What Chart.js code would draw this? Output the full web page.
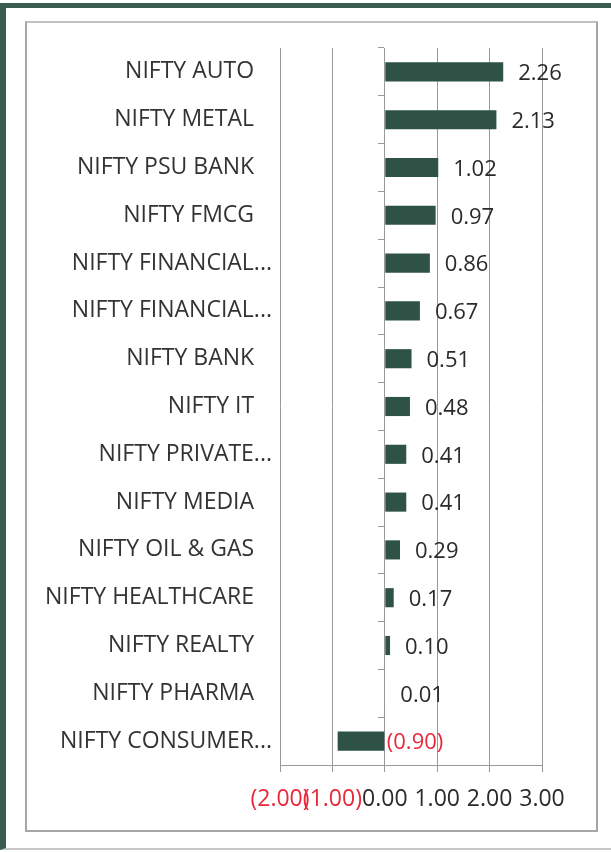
<!DOCTYPE html>
<html>
<head>
<meta charset="utf-8">
<script src="https://cdn.jsdelivr.net/npm/chart.js@4.4.1/dist/chart.umd.min.js"></script>
<style>
  body { margin: 0; background: #fff; }
  #frame {
    position: absolute; left: 0; top: 3px; width: 611px; height: 847px;
    border-left: 6px solid #3b5c50; border-top: 5px solid #3b5c50;
    border-bottom: 2px solid #c8c8c8; box-sizing: border-box;
  }
  #box {
    position: absolute; left: 25px; top: 21px; width: 573px; height: 811px;
    border: 2px solid #a6a6a6; border-top-color: #c0c0c0; box-sizing: border-box;
  }
  #wrap { position: absolute; left: 25px; top: 21px; width: 572px; height: 811px; }
</style>
</head>
<body>
<div id="frame"></div>
<div id="box"></div>
<div id="wrap"><canvas id="chart-sektor"></canvas></div>
<script>
const kategori = [
    "NIFTY AUTO", "NIFTY METAL", "NIFTY PSU BANK", "NIFTY FMCG",
    "NIFTY FINANCIAL...", "NIFTY FINANCIAL...", "NIFTY BANK", "NIFTY IT",
    "NIFTY PRIVATE...", "NIFTY MEDIA", "NIFTY OIL & GAS", "NIFTY HEALTHCARE",
    "NIFTY REALTY", "NIFTY PHARMA", "NIFTY CONSUMER..."
];
const nilai = [2.26, 2.13, 1.02, 0.97, 0.86, 0.67, 0.51, 0.48, 0.41, 0.41, 0.29, 0.17, 0.10, 0.01, -0.90];
const tickSumbuX = [-2, -1, 0, 1, 2, 3];

const fontUtama = "'Open Sans', sans-serif";

function formatAngka(v) {
    const s = Math.abs(v).toFixed(2);
    return v < 0 ? "(" + s + ")" : s;
}

// label nilai di ujung batang (negatif: merah, di sisi kanan garis nol)
const labelNilai = {
    id: "labelNilai",
    afterDatasetsDraw(chart) {
        const ctx = chart.ctx;
        const meta = chart.getDatasetMeta(0);
        const x0 = chart.scales.x.getPixelForValue(0);
        ctx.save();
        ctx.font = "22px " + fontUtama;
        ctx.textBaseline = "middle";
        ctx.textAlign = "left";
        meta.data.forEach(function (bar, i) {
            const v = nilai[i];
            if (v < 0) {
                ctx.fillStyle = "#e8283a";
                ctx.fillText(formatAngka(v), x0 + 2, bar.y + 2);
            } else {
                ctx.fillStyle = "#2a2a2a";
                ctx.fillText(formatAngka(v), bar.x + 15, bar.y + 2);
            }
        });
        ctx.restore();
    }
};

new Chart(document.getElementById("chart-sektor"), {
    type: "bar",
    data: {
        labels: kategori,
        datasets: [{
            data: nilai,
            backgroundColor: "#2e5246",
            borderWidth: 0,
            categoryPercentage: 1,
            barPercentage: 0.4,
            yAxisID: "y"
        }]
    },
    options: {
        indexAxis: "y",
        responsive: true,
        maintainAspectRatio: false,
        animation: false,
        layout: { padding: { top: 27, right: 55, bottom: 0, left: 0 } },
        plugins: { legend: { display: false }, tooltip: { enabled: false } },
        scales: {
            x: {
                min: -2, max: 3,
                afterBuildTicks(scale) {
                    scale.ticks = tickSumbuX.map(v => ({ value: v }));
                },
                afterFit(scale) { scale.height = 67; },
                grid: { color: "#999999", lineWidth: 1, tickLength: 7 },
                border: { color: "#999999" },
                ticks: {
                    autoSkip: false, maxRotation: 0, padding: 14,
                    font: { family: fontUtama, size: 23 },
                    color: (c) => c.tick.value < 0 ? "#e8283a" : "#2a2a2a",
                    callback: (v) => formatAngka(v)
                }
            },
            y: {
                position: "left",
                afterFit(scale) { scale.width = 255; },
                grid: { display: false },
                border: { display: false },
                ticks: {
                    padding: 0,
                    font: { family: fontUtama, size: 23 },
                    color: "#333333",
                    // label terpotong (…) menjorok lebih ke kanan seperti aslinya
                    callback: function (v) {
                        const t = this.getLabelForValue(v);
                        return t.endsWith("...") ? t : t + "   ";
                    }
                }
            },
            yNol: {
                type: "category",
                labels: kategori,
                position: { x: 0 },
                grid: { offset: true, drawOnChartArea: false, tickLength: 6, color: "#999999" },
                border: { color: "#999999" },
                ticks: { display: false }
            }
        }
    },
    plugins: [labelNilai]
});
</script>
</body>
</html>
